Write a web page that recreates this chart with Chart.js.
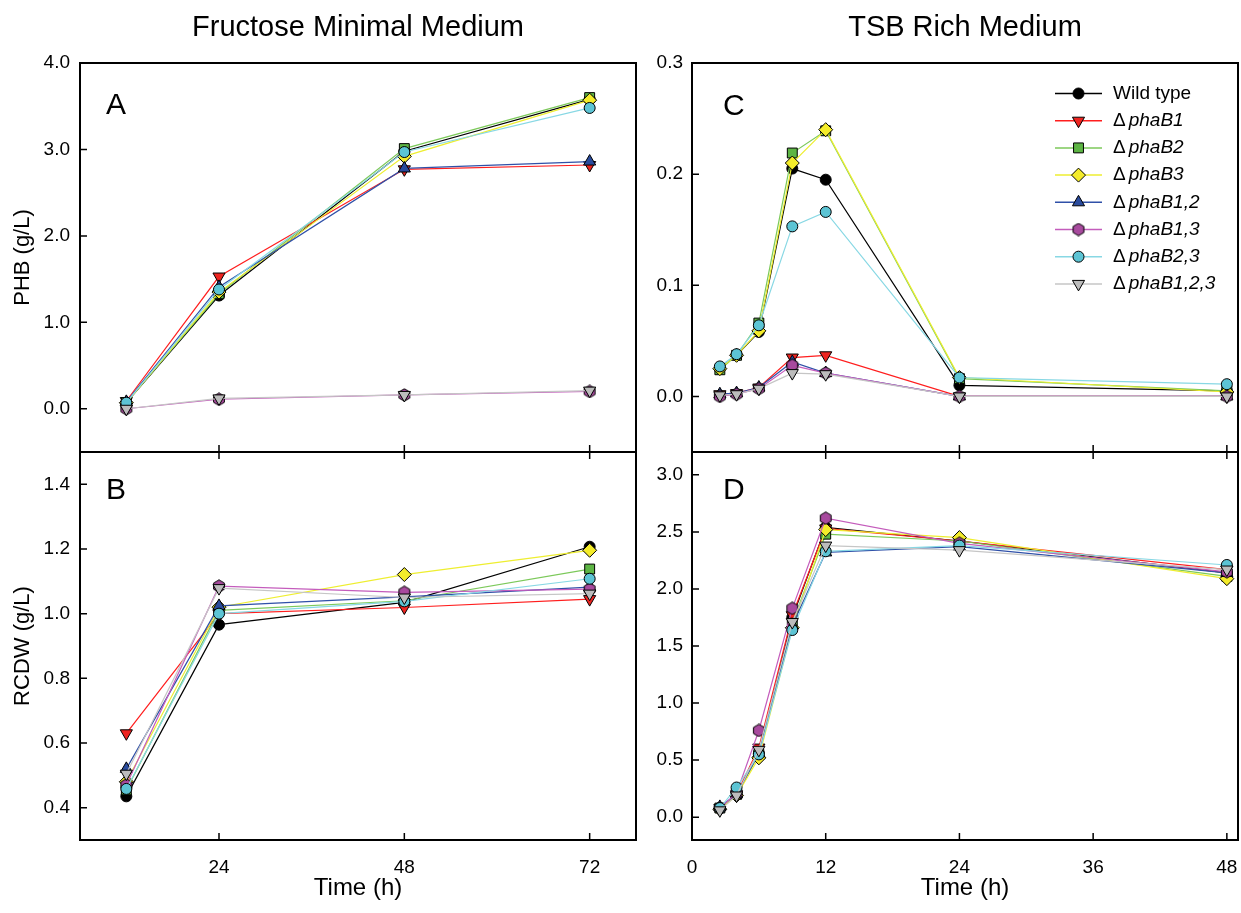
<!DOCTYPE html>
<html>
<head>
<meta charset="utf-8">
<script src="https://cdn.jsdelivr.net/npm/chart.js@4.4.1/dist/chart.umd.min.js"></script>
<style>
  html, body { margin: 0; padding: 0; background: #fff; }
  #wrap { position: relative; width: 1241px; height: 913px; background: #fff; overflow: hidden; }
  #wrap canvas { position: absolute; }
</style>
</head>
<body>
<div id="wrap">
  <canvas id="panelA" width="650" height="455" style="left:0;top:0"></canvas>
  <canvas id="panelB" width="650" height="464" style="left:0;top:449px"></canvas>
  <canvas id="panelC" width="601" height="455" style="left:640px;top:0"></canvas>
  <canvas id="panelD" width="601" height="464" style="left:640px;top:449px"></canvas>
</div>
<script>
// Strains, in legend order
const strains = ["Wild type", "ΔphaB1", "ΔphaB2", "ΔphaB3", "ΔphaB1,2", "ΔphaB1,3", "ΔphaB2,3", "ΔphaB1,2,3"];
const strainItalic = ["", "phaB1", "phaB2", "phaB3", "phaB1,2", "phaB1,3", "phaB2,3", "phaB1,2,3"];

// Sampling times (h)
const timeFructose = [12, 24, 48, 72];
const timeTSB = [2.5, 4, 6, 9, 12, 24, 48];

// Axis ticks
const xTicksFructose = [24, 48, 72];
const xTicksTSB = [0, 12, 24, 36, 48];
const yTicksA = [0, 1, 2, 3, 4];
const yTicksB = [0.4, 0.6, 0.8, 1.0, 1.2, 1.4];
const yTicksC = [0, 0.1, 0.2, 0.3];
const yTicksD = [0, 0.5, 1.0, 1.5, 2.0, 2.5, 3.0];

// A: PHB (g/L), fructose minimal medium — one row per strain
const phbFructose = [
  [0.07, 1.31, 2.98, 3.58],  // Wild type
  [0.09, 1.53, 2.77, 2.82],  // phaB1
  [0.07, 1.33, 3.01, 3.60],  // phaB2
  [0.07, 1.35, 2.92, 3.57],  // phaB3
  [0.08, 1.41, 2.78, 2.86],  // phaB1,2
  [0.00, 0.11, 0.16, 0.20],  // phaB1,3
  [0.07, 1.38, 2.97, 3.48],  // phaB2,3
  [0.00, 0.12, 0.16, 0.21],  // phaB1,2,3
];

// B: RCDW (g/L), fructose minimal medium
const rcdwFructose = [
  [0.435, 0.966, 1.035, 1.207],
  [0.630, 1.000, 1.019, 1.045],
  [0.455, 1.010, 1.040, 1.138],
  [0.480, 1.020, 1.121, 1.196],
  [0.520, 1.024, 1.052, 1.082],
  [0.470, 1.085, 1.066, 1.076],
  [0.458, 1.000, 1.038, 1.108],
  [0.505, 1.079, 1.050, 1.062],
];

// C: PHB (g/L), TSB rich medium
const phbTSB = [
  [0.025, 0.037, 0.058, 0.205, 0.195, 0.010, 0.005],
  [0.002, 0.003, 0.008, 0.035, 0.037, 0.000, 0.000],
  [0.024, 0.037, 0.066, 0.219, 0.239, 0.016, 0.005],
  [0.025, 0.037, 0.059, 0.210, 0.240, 0.017, 0.004],
  [0.002, 0.003, 0.008, 0.031, 0.021, 0.000, 0.000],
  [0.000, 0.002, 0.007, 0.028, 0.021, 0.000, 0.000],
  [0.027, 0.038, 0.064, 0.153, 0.166, 0.017, 0.011],
  [0.001, 0.002, 0.007, 0.021, 0.020, 0.000, 0.000],
];

// D: RCDW (g/L), TSB rich medium
const rcdwTSB = [
  [0.08, 0.20, 0.56, 1.75, 2.54, 2.42, 2.14],
  [0.08, 0.20, 0.61, 1.77, 2.53, 2.42, 2.17],
  [0.08, 0.20, 0.55, 1.70, 2.48, 2.42, 2.11],
  [0.07, 0.19, 0.52, 1.66, 2.52, 2.45, 2.09],
  [0.09, 0.20, 0.56, 1.68, 2.32, 2.37, 2.14],
  [0.08, 0.21, 0.76, 1.83, 2.62, 2.40, 2.15],
  [0.08, 0.26, 0.55, 1.64, 2.33, 2.38, 2.21],
  [0.06, 0.19, 0.59, 1.71, 2.38, 2.34, 2.17],
];

const FONT = "'Liberation Sans', Arial, Helvetica, sans-serif";

const lineColors = ["#000000", "#ff1e1e", "#7cc95a", "#eeee30", "#2f50a8", "#c45cbc", "#88d8e4", "#c6c6c6"];
const fillColors = ["#000000", "#ee2420", "#5db544", "#f4ec2a", "#2a4b9c", "#a84a9e", "#5cc4d4", "#bcbcbc"];

function hexagonMarker(fill) {
  const c = document.createElement("canvas");
  c.width = 14; c.height = 14;
  const g = c.getContext("2d");
  g.beginPath();
  for (let k = 0; k < 6; k++) {
    const a = (-90 + k * 60) * Math.PI / 180;
    const px = 7 + 6.2 * Math.cos(a), py = 7 + 6.2 * Math.sin(a);
    if (k === 0) g.moveTo(px, py); else g.lineTo(px, py);
  }
  g.closePath();
  g.fillStyle = fill;
  g.fill();
  g.strokeStyle = "#000";
  g.lineWidth = 1;
  g.stroke();
  return c;
}

const markerStyles = ["circle", "triangle", "rect", "rectRot", "triangle", hexagonMarker(fillColors[5]), "circle", "triangle"];
const markerRotations = [0, 180, 0, 0, 0, 0, 0, 180];
const markerRadii = [5.5, 7, 7, 7, 7, 6, 5.5, 7];

function makeDatasets(times, rows) {
  return rows.map((vals, i) => ({
    label: strains[i],
    data: vals.map((v, j) => ({ x: times[j], y: v })),
    borderColor: lineColors[i],
    backgroundColor: fillColors[i],
    borderWidth: 1.2,
    pointStyle: markerStyles[i],
    rotation: markerRotations[i],
    pointRadius: markerRadii[i],
    pointHoverRadius: markerRadii[i],
    pointBackgroundColor: fillColors[i],
    pointBorderColor: "#000",
    pointBorderWidth: 1,
    tension: 0,
    order: rows.length - i,
  }));
}

// Box, inward tick marks, panel letter, column title
const framePlugin = {
  id: "frame",
  afterDraw(chart, args, o) {
    const { ctx, chartArea: a, scales: { x, y } } = chart;
    ctx.save();
    ctx.strokeStyle = "#000";
    ctx.lineWidth = 1.5;
    ctx.beginPath();
    o.yTicks.forEach((v) => {
      const py = y.getPixelForValue(v);
      if (py > a.top + 2 && py < a.bottom - 2) {
        ctx.moveTo(a.left, py);
        ctx.lineTo(a.left + 7, py);
      }
    });
    o.xTicks.forEach((v) => {
      const px = x.getPixelForValue(v);
      if (px < a.left + 2 || px > a.right - 2) return;
      if (o.bottomTicks) { ctx.moveTo(px, a.bottom); ctx.lineTo(px, a.bottom - 7); }
      if (o.topTicks) { ctx.moveTo(px, a.top); ctx.lineTo(px, a.top + 7); }
    });
    ctx.stroke();
    ctx.lineWidth = 2;
    ctx.strokeRect(a.left, a.top, a.width, a.height);

    ctx.fillStyle = "#000";
    ctx.textBaseline = "alphabetic";
    ctx.textAlign = "left";
    ctx.font = "30px " + FONT;
    ctx.fillText(o.letter, a.left + o.letterDx, a.top + o.letterDy);
    if (o.title) {
      ctx.textAlign = "center";
      ctx.font = "29px " + FONT;
      ctx.fillText(o.title, (a.left + a.right) / 2, 36);
    }
    ctx.restore();
  },
};

// Legend inside panel C
const legendPlugin = {
  id: "strainLegend",
  afterDraw(chart, args, o) {
    if (!o.show) return;
    const { ctx, chartArea: a } = chart;
    ctx.save();
    strains.forEach((name, i) => {
      const cy = a.top + 30.5 + i * 27.2;
      ctx.strokeStyle = lineColors[i];
      ctx.lineWidth = 1.5;
      ctx.beginPath();
      ctx.moveTo(a.right - 183, cy);
      ctx.lineTo(a.right - 136, cy);
      ctx.stroke();
      ctx.fillStyle = fillColors[i];
      ctx.strokeStyle = "#000";
      ctx.lineWidth = 1;
      Chart.helpers.drawPoint(ctx, {
        pointStyle: markerStyles[i],
        rotation: markerRotations[i],
        radius: markerRadii[i],
        borderWidth: 1,
      }, a.right - 159.5, cy);

      ctx.fillStyle = "#000";
      ctx.textBaseline = "middle";
      ctx.textAlign = "left";
      let tx = a.right - 125;
      ctx.font = "19px " + FONT;
      if (!strainItalic[i]) {
        ctx.fillText(name, tx, cy);
      } else {
        ctx.fillText("Δ", tx, cy);
        tx += ctx.measureText("Δ").width + 3;
        ctx.font = "italic 19px " + FONT;
        ctx.fillText(strainItalic[i], tx, cy);
      }
    });
    ctx.restore();
  },
};

function makePanel(id, cfg) {
  const tickFont = { family: FONT, size: 19 };
  const noEdgePad = (s) => {
    s.paddingTop = 0; s.paddingBottom = 0; s.paddingLeft = 0; s.paddingRight = 0;
  };
  return new Chart(document.getElementById(id), {
    type: "line",
    data: { datasets: makeDatasets(cfg.times, cfg.rows) },
    plugins: [framePlugin, legendPlugin],
    options: {
      responsive: false,
      animation: false,
      events: [],
      layout: { padding: cfg.padding, autoPadding: false },
      plugins: {
        legend: { display: false },
        tooltip: { enabled: false },
        frame: {
          xTicks: cfg.xTicks, yTicks: cfg.yTicks, letter: cfg.letter,
          letterDx: cfg.letterDx, letterDy: cfg.letterDy, title: cfg.title,
          topTicks: cfg.topTicks, bottomTicks: true,
        },
        strainLegend: { show: !!cfg.legend },
      },
      scales: {
        x: {
          type: "linear",
          min: cfg.xMin,
          max: cfg.xMax,
          display: cfg.showX,
          afterBuildTicks: (s) => { s.ticks = cfg.xTicks.map((v) => ({ value: v })); },
          afterFit: (s) => { s.height = cfg.showX ? 73 : 0; noEdgePad(s); },
          grid: { display: false, drawTicks: false },
          border: { display: false },
          ticks: { color: "#000", font: tickFont, padding: 16, maxRotation: 0, autoSkip: false },
          title: {
            display: true, text: "Time (h)", color: "#000",
            font: { family: FONT, size: 24 }, padding: { top: 4, bottom: 10 },
          },
        },
        y: {
          type: "linear",
          min: cfg.yMin,
          max: cfg.yMax,
          afterBuildTicks: (s) => { s.ticks = cfg.yTicks.map((v) => ({ value: v })); },
          afterFit: (s) => { s.width = cfg.yWidth; noEdgePad(s); },
          grid: { display: false, drawTicks: false },
          border: { display: false },
          ticks: {
            color: "#000", font: tickFont, padding: cfg.yPad, autoSkip: false,
            callback: (v) => Number(v).toFixed(1),
          },
          title: {
            display: !!cfg.yTitle, text: cfg.yTitle || "", color: "#000",
            font: { family: FONT, size: 22 }, padding: { top: 10, bottom: 0 },
          },
        },
      },
    },
  });
}

makePanel("panelA", {
  times: timeFructose, rows: phbFructose, xMin: 6, xMax: 78, yMin: -0.5, yMax: 4.0,
  xTicks: xTicksFructose, yTicks: yTicksA, showX: false, topTicks: false,
  padding: { left: 0, top: 63, right: 14, bottom: 3 }, yWidth: 80, yPad: 10,
  yTitle: "PHB (g/L)", letter: "A", letterDx: 26, letterDy: 51, title: "Fructose Minimal Medium",
});

makePanel("panelB", {
  times: timeFructose, rows: rcdwFructose, xMin: 6, xMax: 78, yMin: 0.3, yMax: 1.5,
  xTicks: xTicksFructose, yTicks: yTicksB, showX: true, topTicks: true,
  padding: { left: 0, top: 3, right: 14, bottom: 0 }, yWidth: 80, yPad: 10,
  yTitle: "RCDW (g/L)", letter: "B", letterDx: 26, letterDy: 47,
});

makePanel("panelC", {
  times: timeTSB, rows: phbTSB, xMin: 0, xMax: 49, yMin: -0.05, yMax: 0.3,
  xTicks: xTicksTSB, yTicks: yTicksC, showX: false, topTicks: false,
  padding: { left: 0, top: 63, right: 3, bottom: 3 }, yWidth: 52, yPad: 9,
  letter: "C", letterDx: 31, letterDy: 52, title: "TSB Rich Medium", legend: true,
});

makePanel("panelD", {
  times: timeTSB, rows: rcdwTSB, xMin: 0, xMax: 49, yMin: -0.2, yMax: 3.2,
  xTicks: xTicksTSB, yTicks: yTicksD, showX: true, topTicks: true,
  padding: { left: 0, top: 3, right: 3, bottom: 0 }, yWidth: 52, yPad: 9,
  letter: "D", letterDx: 31, letterDy: 47,
});
</script>
</body>
</html>
